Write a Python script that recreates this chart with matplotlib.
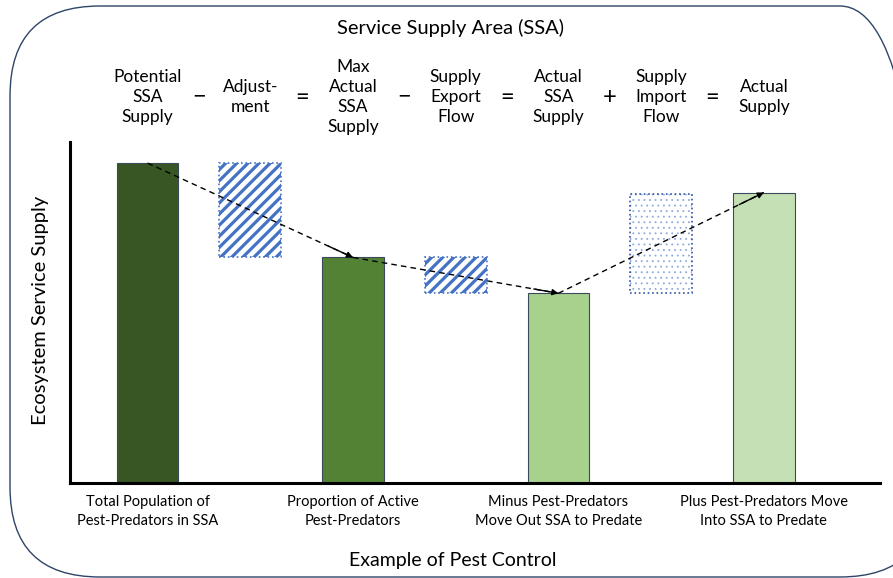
import matplotlib.pyplot as plt
import matplotlib.transforms as mtransforms
from matplotlib.patches import FancyBboxPatch

plt.rcParams['font.family'] = ['Lato', 'DejaVu Sans']

# stacked supply steps (arbitrary units)
bar_labels = ["Total Population of\nPest-Predators in SSA",
              "Proportion of Active\nPest-Predators",
              "Minus Pest-Predators\nMove Out SSA to Predate",
              "Plus Pest-Predators Move\nInto SSA to Predate"]
bar_values = [100, 70.5, 59.3, 90.8]
bar_colors = ["#375623", "#548235", "#A9D18E", "#C5E0B4"]

# flows between the bars: (bottom, top)
flow_names = ["adjustment", "export", "import"]
flow_bottoms = [70.5, 59.3, 59.3]
flow_tops = [100, 70.5, 90.2]

eq_terms = ["Potential\nSSA\nSupply", "Adjust-\nment", "Max\nActual\nSSA\nSupply",
            "Supply\nExport\nFlow", "Actual\nSSA\nSupply", "Supply\nImport\nFlow",
            "Actual\nSupply"]
eq_ops = ["\u2212", "=", "\u2212", "=", "+", "="]

bar_x = [0, 2, 4, 6]
flow_x = [1, 3, 5]

fig = plt.figure(figsize=(8.93, 5.78), dpi=100)
ax = fig.add_axes([0.0784, 0.1644, 0.907, 0.59])

ax.bar(bar_x, bar_values, width=0.6, color=bar_colors,
       edgecolor="#3B4A5A", linewidth=0.8, zorder=2)

# striped boxes for adjustment and export
plt.rcParams['hatch.linewidth'] = 2.3
for i in range(2):
    h = flow_tops[i] - flow_bottoms[i]
    ax.bar(flow_x[i], h, bottom=flow_bottoms[i], width=0.6, color="white",
           edgecolor="#4472C4", hatch="///", linewidth=0, zorder=2)
    ax.bar(flow_x[i], h, bottom=flow_bottoms[i], width=0.6, fill=False,
           edgecolor="#4472C4", linestyle=":", linewidth=1.2, zorder=3)

# dotted box for import
plt.rcParams['hatch.linewidth'] = 0.6
h = flow_tops[2] - flow_bottoms[2]
ax.bar(flow_x[2], h, bottom=flow_bottoms[2], width=0.6, color="white",
       edgecolor="#8FAADC", hatch="...", linewidth=0, zorder=2)
ax.bar(flow_x[2], h, bottom=flow_bottoms[2], width=0.6, fill=False,
       edgecolor="#2F55A4", linestyle=":", linewidth=1.2, zorder=3)

# dashed arrows linking the bar tops
for j in range(len(bar_x) - 1):
    x0, y0 = bar_x[j], bar_values[j]
    x1, y1 = bar_x[j + 1], bar_values[j + 1]
    ax.plot([x0, x1], [y0, y1], color="black", linestyle=(0, (4, 3)),
            linewidth=1, zorder=4)
    ax.annotate("", xy=(x1, y1), xytext=(x1 - 0.12 * (x1 - x0), y1 - 0.12 * (y1 - y0)),
                arrowprops=dict(arrowstyle="-|>", color="black", lw=1,
                                shrinkA=0, shrinkB=0, mutation_scale=9),
                zorder=5)

ax.set_xlim(-0.755, 7.13)
ax.set_ylim(0, 106.6)
ax.set_xticks([])
ax.set_yticks([])
for s in ["top", "right"]:
    ax.spines[s].set_visible(False)
for s in ["left", "bottom"]:
    ax.spines[s].set_linewidth(2.2)
    ax.spines[s].set_color("black")

trans = mtransforms.blended_transform_factory(ax.transData, fig.transFigure)

for x, lab in zip(bar_x, bar_labels):
    ax.text(x, 0.115, lab, transform=trans, ha="center", va="center",
            fontsize=10.5, linespacing=1.45)

term_x = [0, 1, 2, 3, 4, 5, 6]
for x, t in zip(term_x, eq_terms):
    ax.text(x, 0.832, t, transform=trans, ha="center", va="center",
            fontsize=12.5, linespacing=1.32)
for k, op in enumerate(eq_ops):
    ax.text(k + 0.5, 0.832, op, transform=trans, ha="center", va="center",
            fontsize=17)

fig.text(0.505, 0.952, "Service Supply Area (SSA)", ha="center", va="center",
         fontsize=14.5)
fig.text(0.507, 0.031, "Example of Pest Control", ha="center", va="center",
         fontsize=14)
fig.text(0.045, 0.463, "Ecosystem Service Supply", ha="center", va="center",
         rotation=90, fontsize=14.5)

# rounded frame around the whole diagram, right side runs off the canvas
frame = FancyBboxPatch((0.10, 0.01), 9.2, 5.71,
                       boxstyle="round,pad=0,rounding_size=0.9",
                       transform=fig.dpi_scale_trans, fill=False,
                       edgecolor="#2E4468", linewidth=1.0, clip_on=False)
fig.add_artist(frame)

fig.savefig("out.png", dpi=100)
